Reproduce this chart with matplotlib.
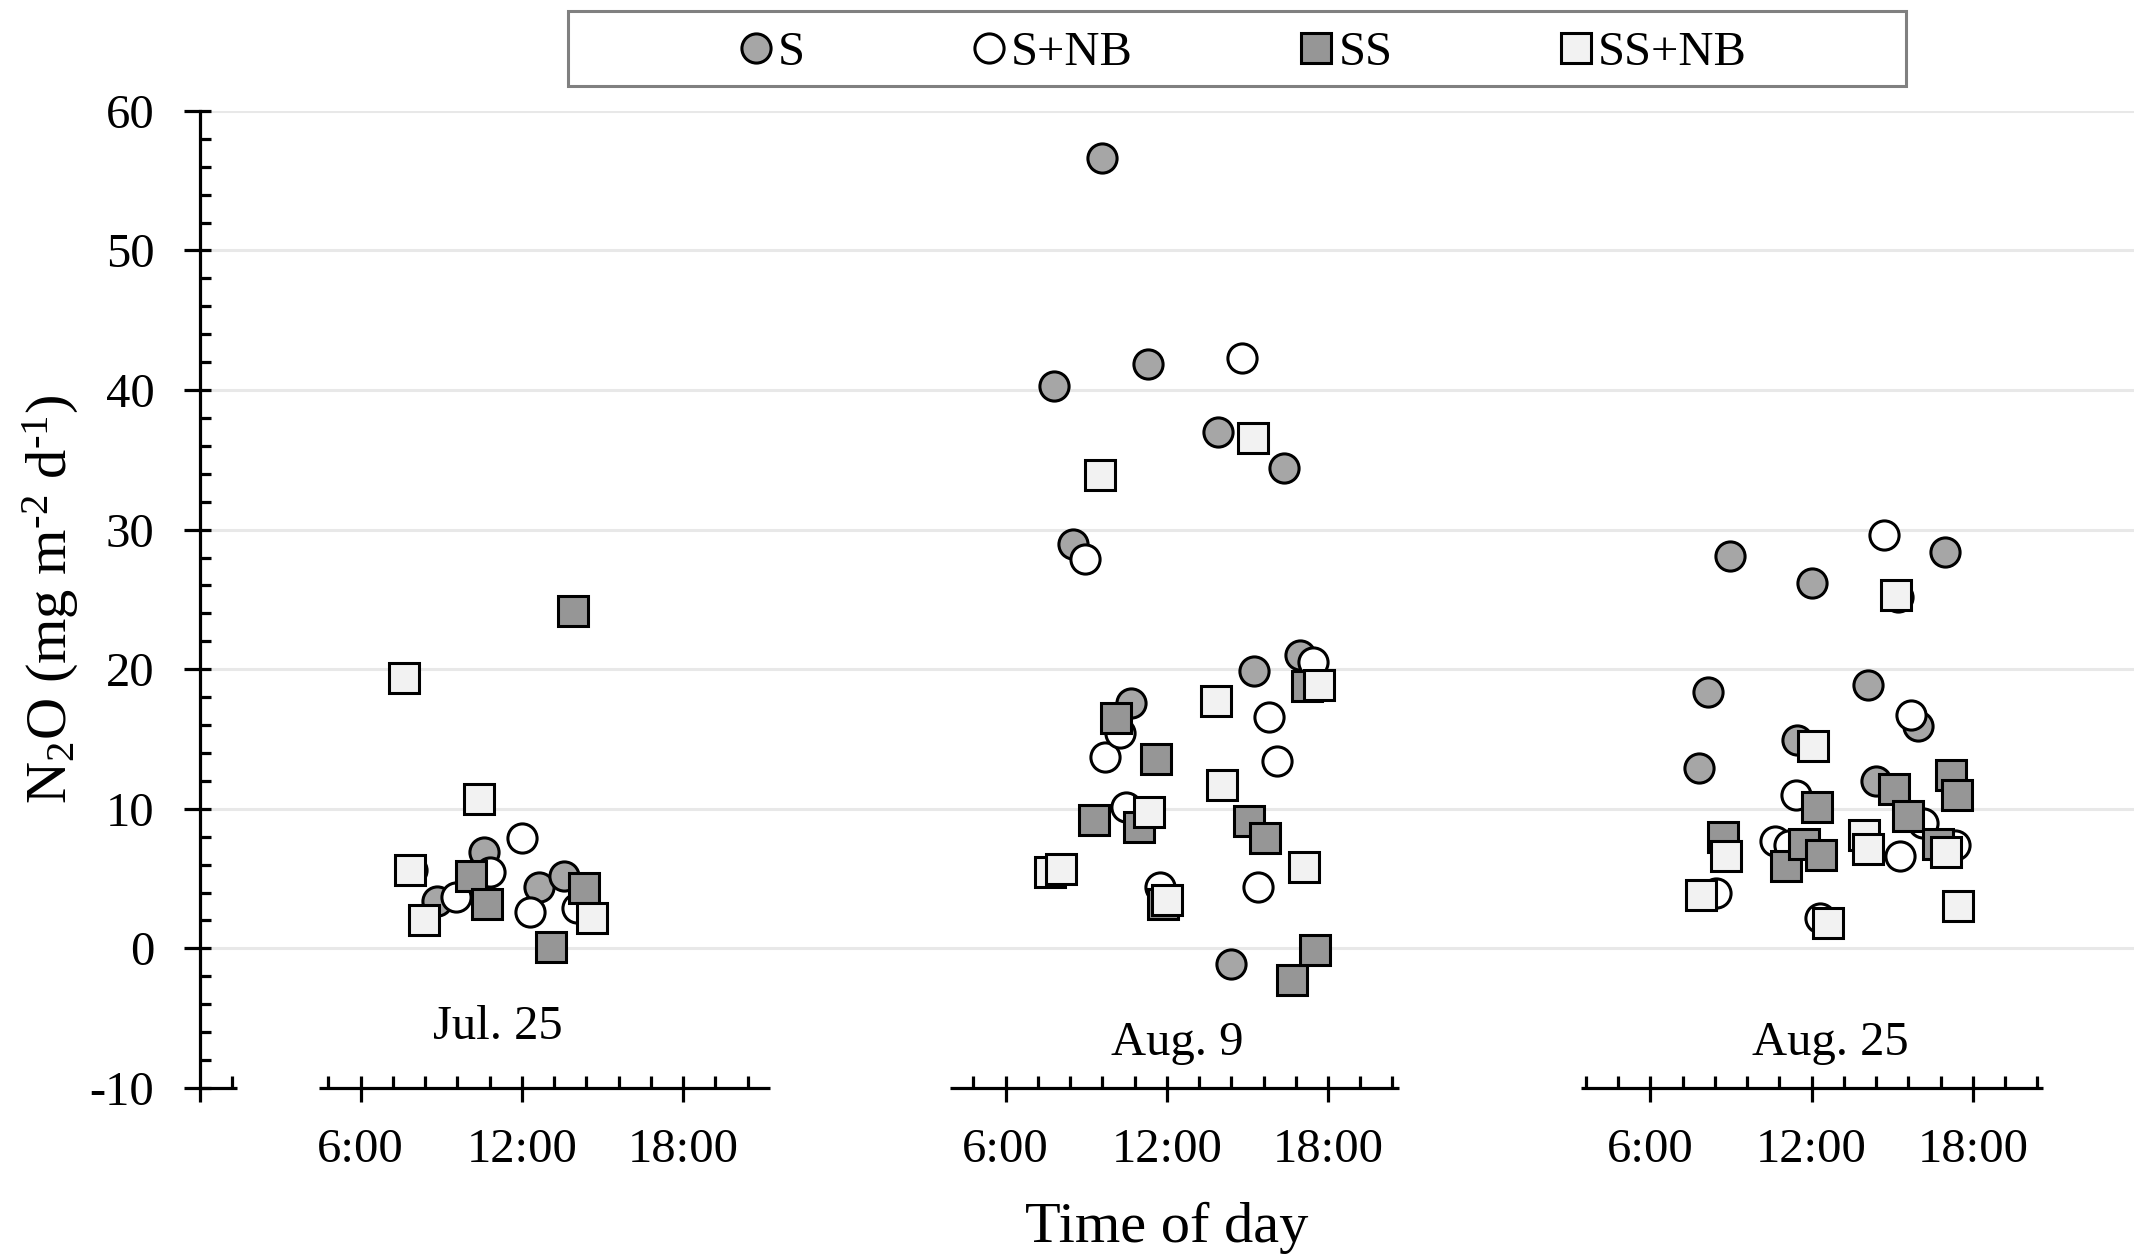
import numpy as np
import matplotlib
matplotlib.use("Agg")
import matplotlib.pyplot as plt
from matplotlib.patches import Rectangle

plt.rcParams['font.family'] = ['Liberation Serif', 'DejaVu Serif']
plt.rcParams['mathtext.fontset'] = 'custom'
plt.rcParams['mathtext.rm'] = 'Liberation Serif'
plt.rcParams['mathtext.it'] = 'Liberation Serif:italic'
plt.rcParams['axes.unicode_minus'] = False

# sampling days, one block of 24 h each
days = ['Jul. 25', 'Aug. 9', 'Aug. 25']

# hour of day and N2O flux for each day, per treatment
s_time = [[7.9, 8.85, 10.6, 12.65, 13.55],
          [7.8, 8.5, 9.6, 10.65, 11.3, 13.9, 14.4, 15.25, 16.35, 16.95],
          [7.8, 8.15, 8.95, 11.45, 12.0, 14.1, 14.4, 15.2, 15.95, 16.95]]
s_flux = [[5.6, 3.4, 6.9, 4.4, 5.2],
          [40.3, 29.0, 56.6, 17.6, 41.9, 37.0, -1.1, 19.9, 34.4, 21.0],
          [12.9, 18.4, 28.1, 14.9, 26.2, 18.9, 12.0, 25.2, 15.9, 28.4]]

snb_time = [[9.55, 10.8, 12.0, 12.3, 14.05],
            [8.95, 9.7, 10.25, 10.5, 11.75, 14.8, 15.4, 15.8, 16.1, 17.45],
            [8.45, 10.65, 11.15, 11.4, 12.3, 14.7, 15.3, 15.7, 16.15, 17.35]]
snb_flux = [[3.7, 5.5, 7.9, 2.6, 2.9],
            [27.9, 13.7, 15.4, 10.1, 4.4, 42.3, 4.4, 16.6, 13.4, 20.5],
            [4.0, 7.7, 7.4, 11.0, 2.2, 29.6, 6.6, 16.7, 9.0, 7.4]]

ss_time = [[10.1, 10.7, 13.1, 13.9, 14.3],
           [9.3, 10.1, 10.95, 11.6, 11.85, 15.05, 15.65, 16.65, 17.2, 17.5],
           [8.7, 11.05, 11.7, 12.2, 12.35, 15.05, 15.6, 16.7, 17.2, 17.4]]
ss_flux = [[5.2, 3.2, 0.1, 24.2, 4.3],
           [9.2, 16.5, 8.7, 13.6, 3.2, 9.1, 7.9, -2.3, 18.8, -0.1],
           [8.0, 5.9, 7.5, 10.1, 6.7, 11.4, 9.5, 7.5, 12.4, 11.0]]

ssnb_time = [[7.6, 7.85, 8.35, 10.4, 14.6],
             [7.65, 8.05, 9.5, 11.35, 12.0, 13.85, 14.05, 15.2, 17.1, 17.65],
             [7.9, 8.8, 12.05, 12.6, 13.95, 14.1, 15.15, 17.0, 17.45]]
ssnb_flux = [[19.4, 5.6, 2.0, 10.7, 2.2],
             [5.5, 5.7, 33.9, 9.8, 3.5, 17.7, 11.7, 36.6, 5.8, 18.9],
             [3.8, 6.6, 14.5, 1.8, 8.1, 7.1, 25.3, 6.9, 3.0]]

series = [
    ('S', s_time, s_flux, 'o', '#a6a6a6'),
    ('S+NB', snb_time, snb_flux, 'o', 'white'),
    ('SS', ss_time, ss_flux, 's', '#969696'),
    ('SS+NB', ssnb_time, ssnb_flux, 's', '#f2f2f2'),
]

fig = plt.figure(figsize=(21.36, 12.56), dpi=100)
ax = fig.add_axes([0.0934, 0.1338, 0.9057, 0.7779])

handles = []
for name, times, flux, marker, fill in series:
    x = np.concatenate([24 * i + np.asarray(t) for i, t in enumerate(times)])
    y = np.concatenate(flux)
    h, = ax.plot(x, y, ls='none', marker=marker, ms=21, mfc=fill, mec='black',
                 mew=2.2, label=name, zorder=3)
    handles.append(h)

ax.set_xlim(0, 72)
ax.set_ylim(-10, 60)

# y axis: outward major ticks, inward minor ticks every 2
ax.set_yticks(np.arange(-10, 61, 10))
ax.set_yticks(np.arange(-10, 61, 2), minor=True)
ax.yaxis.remove_overlapping_locs = False
ax.tick_params(axis='y', which='major', direction='out', length=11.5, width=2.3,
               labelsize=35, pad=21)
ax.tick_params(axis='y', which='minor', direction='in', length=7.7, width=2.3)

# x axis: broken into one block per day
segments = [(0, 1.4), (4.45, 21.25), (27.95, 44.65), (51.4, 68.6)]
major_x = [0] + [24 * i + hh for i in range(3) for hh in (6, 12, 18)]
major_lab = [''] + ['6:00', '12:00', '18:00'] * 3
ax.set_xticks(major_x, major_lab)
minor_x = [1.2]
for a, b in segments[1:]:
    k0 = int(np.ceil(a / 1.2 - 1e-6))
    k1 = int(np.floor(b / 1.2 + 1e-6))
    minor_x += [round(k * 1.2, 2) for k in range(k0, k1 + 1)]
ax.set_xticks(minor_x, minor=True)
ax.xaxis.remove_overlapping_locs = False
ax.tick_params(axis='x', which='major', direction='out', length=10, width=2.3,
               labelsize=35, pad=19)
ax.tick_params(axis='x', which='minor', direction='in', length=8.8, width=2.3)

for a, b in segments:
    ax.plot([a, b], [-10, -10], color='black', lw=2.3, clip_on=False,
            solid_capstyle='butt', zorder=4)

for side in ('top', 'right', 'bottom'):
    ax.spines[side].set_visible(False)
ax.spines['left'].set_linewidth(2.3)

ax.grid(axis='y', color='#e8e8e8', lw=2.2)
ax.get_ygridlines()[0].set_visible(False)
ax.set_axisbelow(True)

# day names under each block
day_hour = [11.1, 12.4, 12.7]
day_y = [-5.6, -6.8, -6.8]
for i, d in enumerate(days):
    ax.text(24 * i + day_hour[i], day_y[i], d, ha='center', va='center', fontsize=35)

ax.set_ylabel(r'N$_2$O (mg m$^{\text{-}2}$ d$^{\text{-}1}$)', fontsize=42)
ax.yaxis.set_label_coords(-0.061, 0.5)
ax.set_xlabel('Time of day', fontsize=42)
ax.xaxis.set_label_coords(0.5, -0.1164)

ax.legend(handles=handles, ncol=4, loc='center', bbox_to_anchor=(0.5825, 0.958),
          bbox_transform=fig.transFigure, frameon=False, fontsize=35,
          handlelength=0.6, handletextpad=0.15, columnspacing=3.48,
          markerscale=1.0, borderaxespad=0)
fig.add_artist(Rectangle((0.2659, 0.9315), 0.6264, 0.0597, transform=fig.transFigure,
                         fill=False, ec='#808080', lw=2.2))

fig.savefig('out.png', dpi=100)
